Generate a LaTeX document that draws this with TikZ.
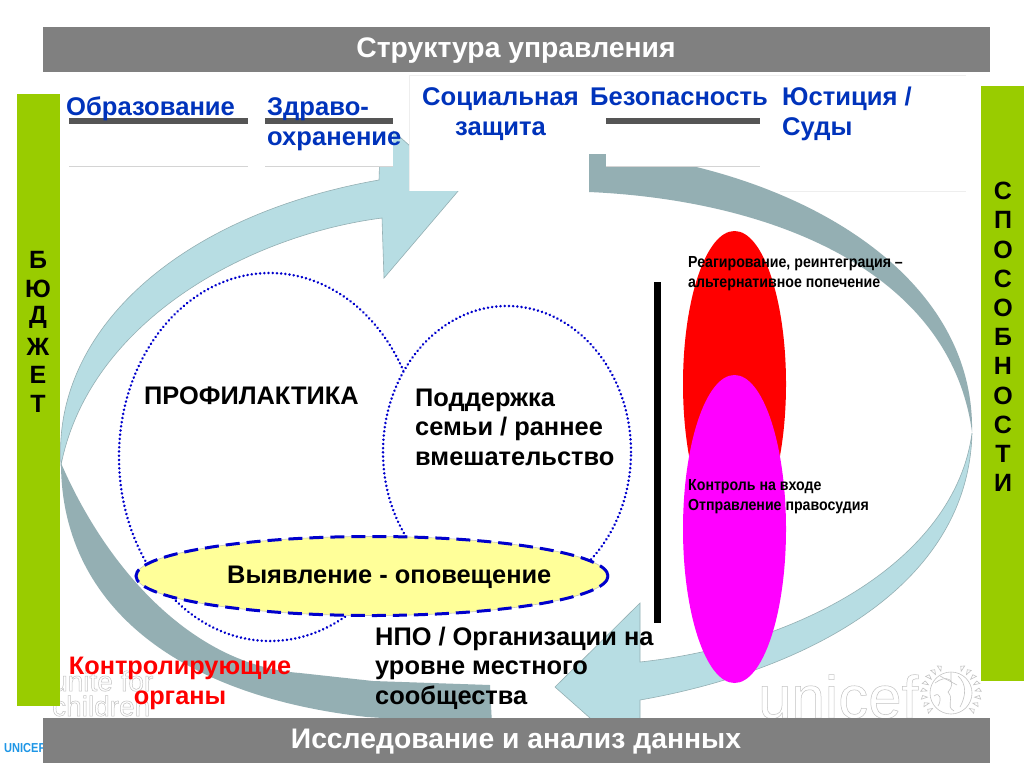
\documentclass[tikz,border=0pt]{standalone}
\usepackage{fontspec}
\setmainfont{Liberation Sans}
\usetikzlibrary{shapes.geometric}
\definecolor{barGray}{HTML}{808080}
\definecolor{barGreen}{HTML}{99CC00}
\definecolor{arrowLight}{HTML}{B7DDE3}
\definecolor{arrowDark}{HTML}{94AFB3}
\definecolor{headBlue}{HTML}{0033BB}
\definecolor{dotBlue}{HTML}{0000CC}
\definecolor{paleYellow}{HTML}{FFFF99}
\definecolor{ruleDark}{HTML}{555555}
\definecolor{ruleFaint}{HTML}{D4D4D4}
\definecolor{ruleFainter}{HTML}{EEEEEE}
\definecolor{waterGray}{HTML}{C4C4C4}
\definecolor{unicefBlue}{HTML}{1E96E6}
\definecolor{pureMagenta}{HTML}{FF00FF}
\definecolor{pureRed}{HTML}{FF0000}
\newcommand{\hollow}[1]{\special{pdf:code q 1 Tr 0.5 w 0.76 G}#1\special{pdf:code Q}}
\tikzset{
  bar/.style={fill=barGray,draw=none},
  greenbar/.style={fill=barGreen,draw=none},
  lightarrow/.style={fill=arrowLight,draw=arrowDark,line width=0.6pt},
  darkarrow/.style={fill=arrowDark,draw=none},
  wbox/.style={fill=white,draw=none},
  oval/.style={ellipse,inner sep=0pt,outer sep=0pt},
  dotoval/.style={oval,fill=white,draw=dotBlue,line width=2.8pt,line cap=round,dash pattern=on 0.01pt off 4.2pt},
  barlabel/.style={font=\fontsize{28.3}{28.3}\selectfont\bfseries,text=white,inner sep=0pt},
  headlabel/.style={font=\fontsize{25.6}{30}\selectfont\bfseries,text=headBlue,inner sep=0pt,anchor=base west},
  bigblack/.style={font=\fontsize{25.4}{29.3}\selectfont\bfseries,text=black,inner sep=0pt,anchor=base west,align=left},
  letter/.style={font=\fontsize{25}{25}\selectfont\bfseries,text=black,inner sep=0pt},
  tiny/.style={font=\fontsize{16}{16}\selectfont\bfseries,text=black,inner sep=0pt,anchor=base west},
  rulethick/.style={draw=ruleDark,line width=5.5pt},
  rulethin/.style={draw=ruleFaint,line width=0.7pt},
  rulefaint/.style={draw=ruleFainter,line width=0.7pt},
  wreath/.style={draw=waterGray,line width=0.6pt}
}
\begin{document}
\begin{tikzpicture}[x=1pt,y=-1pt]
\useasboundingbox (0,0) rectangle (1024,768);
\fill[white] (0,0) rectangle (1024,768);

% curved arrows
\path[darkarrow] (589,150) .. controls (790,165) and (975,270) .. (972,432)
  .. controls (950,270) and (770,200) .. (589,192) -- cycle;
\path[darkarrow] (61,463) .. controls (61,600) and (170,695) .. (367,717) -- (492,725) -- (490,685)
  -- (373,681) -- (300,673) .. controls (190,665) and (105,565) .. (61,463) -- cycle;
\draw[lightarrow] (61,465) .. controls (52,330) and (180,215) .. (379,180)
  -- (381,120) -- (459,190) -- (384,278) -- (382,218)
  .. controls (250,235) and (90,320) .. (61,465) -- cycle;
\draw[lightarrow] (972,433) .. controls (955,560) and (800,645) .. (640,662)
  -- (640,603) -- (555,687) -- (634,757) -- (640,757) -- (640,700)
  .. controls (800,672) and (968,590) .. (972,433) -- cycle;

% watermarks
\node (unite) [anchor=base west,inner sep=0pt,font=\fontsize{28}{28}\selectfont] at (52,691) {\hollow{unite for}};
\node (children) [anchor=base west,inner sep=0pt,font=\fontsize{28}{28}\selectfont] at (52,716) {\hollow{children}};
\node (unicef) [anchor=base west,inner sep=0pt,font=\fontsize{60}{60}\selectfont] at (758,718) {\hollow{unicef}};
\draw[wreath] (951,693) circle (21);
\draw[wreath] (935,683) .. controls (946,674) and (958,680) .. (948,692) .. controls (955,700) and (945,706) .. (954,711);
\draw[wreath] (958,676) .. controls (967,684) and (966,696) .. (960,707);
\draw[wreath] (934,696) .. controls (940,691) and (942,700) .. (938,706);
\draw[wreath] (951,672) -- (951,681) (940,676) -- (957,685);
\foreach \a in {140,155,...,245} \draw[wreath] (951,693) ++(\a:24) -- ++(\a+30:5) -- ++(\a-60:4) -- cycle;
\foreach \a in {40,25,...,-65} \draw[wreath] (951,693) ++(\a:24) -- ++(\a-30:5) -- ++(\a+60:4) -- cycle;
\node (unicefsmall) [anchor=base west,inner sep=0pt,text=unicefBlue,font=\fontsize{13}{13}\selectfont\bfseries] at (4,752) {\scalebox{0.85}[1]{UNICEF}};

% bars
\path[greenbar] (17,94) rectangle (60,706);
\path[greenbar] (981,86) rectangle (1024,681);
\path[bar] (43,27) rectangle (990,72);
\path[bar] (43,718) rectangle (990,763);
\node (title) [barlabel] at (516,51) {Структура управления};
\node (research) [barlabel] at (516,742) {Исследование и анализ данных};

% white header boxes
\path[wbox] (65,75) rectangle (248,166);
\path[wbox] (265,75) rectangle (393,166);
\path[wbox] (589,75) rectangle (770,154);
\path[wbox] (606,75) rectangle (760,166);
\path[wbox] (780,75) rectangle (966,191);
\path[wbox] (409,75) rectangle (589,191);
\draw[rulethin] (69,166) -- (248,166);
\draw[rulethin] (265,166) -- (393,166);
\draw[rulethin] (606,166) -- (760,166);
\draw[rulefaint] (780,191) -- (966,191);
\draw[rulefaint] (409,75) -- (966,75);
\draw[rulefaint] (409,75) -- (409,191);
\draw[rulethick] (69,121) -- (248,121);
\draw[rulethick] (265,121) -- (393,121);
\draw[rulethick] (606,121) -- (760,121);

\node (edu) [headlabel] at (66,115) {Образование};
\node (healthA) [headlabel] at (267,115) {Здраво-};
\node (healthB) [headlabel] at (267,145) {охранение};
\node (socA) [headlabel] at (422,105) {Социальная};
\node (socB) [headlabel] at (455,135) {защита};
\node (sec) [headlabel] at (590,105) {Безопасность};
\node (justA) [headlabel] at (782,105) {Юстиция /};
\node (justB) [headlabel] at (782,135) {Суды};

% ovals
\node (prev) [dotoval,minimum width=302pt,minimum height=368pt] at (270,457) {};
\node (fam) [dotoval,minimum width=248pt,minimum height=292pt] at (507,452) {};
\node (detect) [oval,fill=paleYellow,draw=waterGray,line width=0.6pt,minimum width=472pt,minimum height=79pt] at (372,576) {};
\draw[dotBlue,line width=3pt,dash pattern=on 14pt off 7pt] (detect.center) ++(236,0) arc[start angle=0,end angle=360,x radius=236,y radius=39.5];
\node (resp) [oval,fill=pureRed,minimum width=103pt,minimum height=306pt] at (734.5,384) {};
\node (ctrl) [oval,fill=pureMagenta,minimum width=103pt,minimum height=308pt] at (734.5,529) {};
\fill[black] (654,282) rectangle (661,623);

% labels
\node (prevt) [bigblack] at (144,404) {ПРОФИЛАКТИКА};
\node (famt) [bigblack] at (415,465) {Поддержка\\семьи / раннее\\вмешательство};
\node (detectt) [bigblack] at (227,583) {Выявление - оповещение};
\node (ngo) [bigblack] at (375,704) {НПО / Организации на\\уровне местного\\сообщества};
\node (monitor) [font=\fontsize{25.3}{30}\selectfont\bfseries,text=pureRed,align=center,inner sep=0pt] at (180,683) {Контролирующие\\органы};
\node (respA) [tiny] at (688,267) {\scalebox{0.885}[1]{Реагирование, реинтеграция  –}};
\node (respB) [tiny] at (688,287) {\scalebox{0.885}[1]{альтернативное попечение}};
\node (ctrlA) [tiny] at (688,490) {\scalebox{0.885}[1]{Контроль на входе}};
\node (ctrlB) [tiny] at (688,510) {\scalebox{0.885}[1]{Отправление правосудия}};

% vertical words
\foreach \ch [count=\i from 0] in {Б,Ю,Д,Ж,Е,Т}
  \node (bud\i) [letter] at (38,260+28.8*\i) {\ch};
\foreach \ch [count=\i from 0] in {С,П,О,С,О,Б,Н,О,С,Т,И}
  \node (cap\i) [letter] at (1003,191+29.2*\i) {\ch};
\end{tikzpicture}
\end{document}
